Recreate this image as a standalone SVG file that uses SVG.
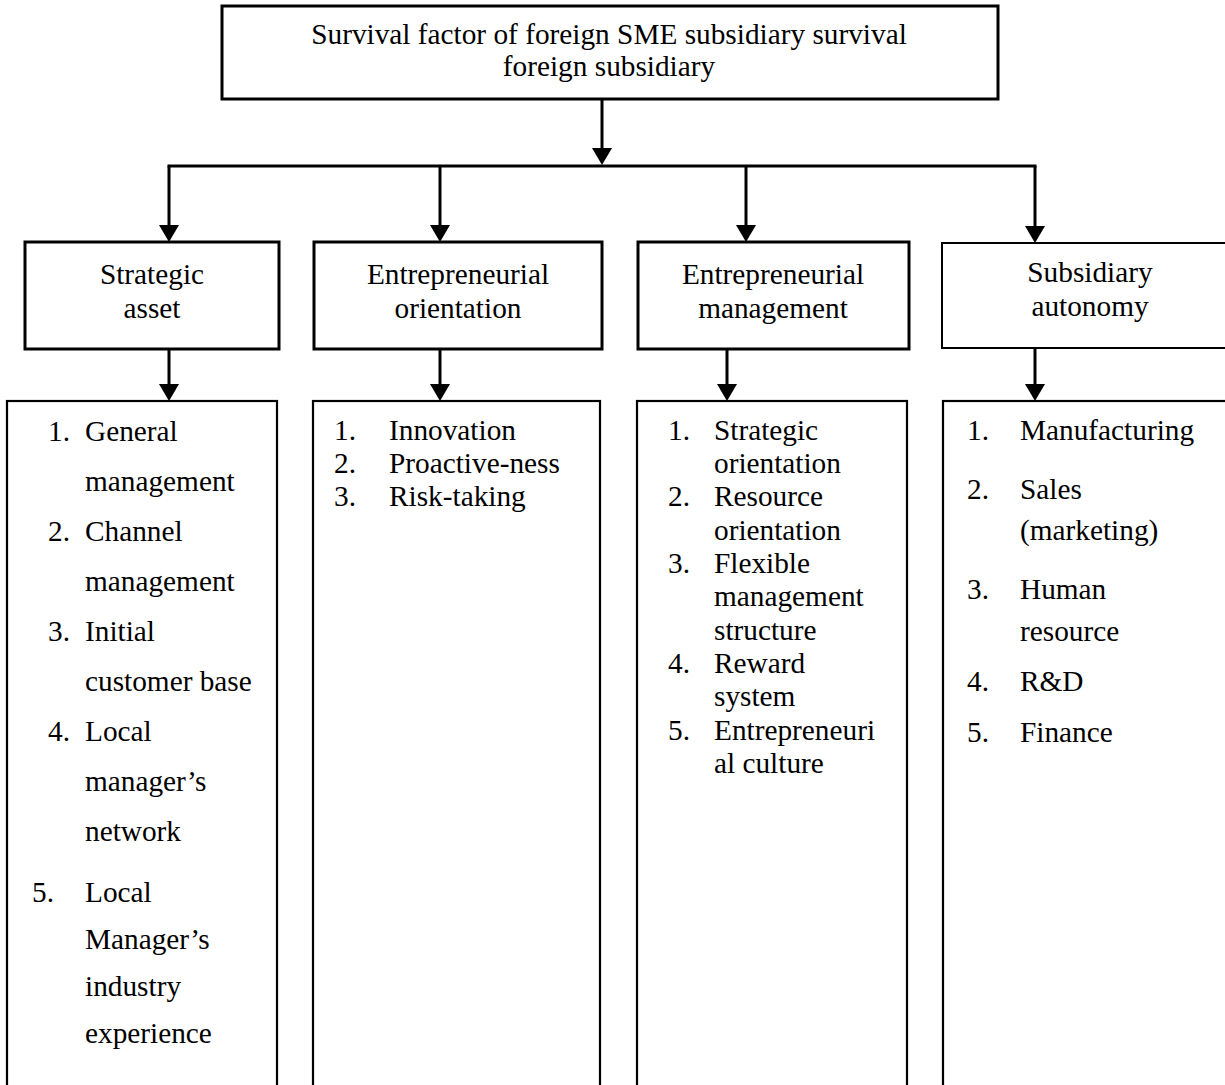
<svg xmlns="http://www.w3.org/2000/svg" width="1225" height="1085" viewBox="0 0 1225 1085">
<defs>
<style>
text{font-family:"Liberation Serif","Times New Roman",serif;font-size:29.3px;fill:#000}
.box{fill:#fff;stroke:#000;stroke-width:3}
.thin{fill:#fff;stroke:#000;stroke-width:2}
.list{fill:#fff;stroke:#000;stroke-width:2.2}
.c{text-anchor:middle}
.conn{stroke:#000;stroke-width:3;fill:none}
</style>
<marker id="ah" markerUnits="userSpaceOnUse" markerWidth="17" markerHeight="20" viewBox="0 0 17 20" refX="0" refY="10" orient="auto">
<path d="M0,0 L17,10 L0,20 Z" fill="#000"/>
</marker>
</defs>
<rect width="1225" height="1085" fill="#fff"/>

<g id="top">
<rect class="box" x="222" y="6" width="776" height="93" stroke-width="2.5"/>
<text class="c" x="609" y="44">Survival factor of foreign SME subsidiary survival</text>
<text class="c" x="609" y="76">foreign subsidiary</text>
</g>

<g id="connectors">
<line class="conn" x1="602" y1="99" x2="602" y2="148" marker-end="url(#ah)"/>
<line class="conn" x1="169" y1="166" x2="1035" y2="166" stroke-linecap="square"/>
<line class="conn" x1="169" y1="166" x2="169" y2="225" marker-end="url(#ah)"/>
<line class="conn" x1="440" y1="166" x2="440" y2="225" marker-end="url(#ah)"/>
<line class="conn" x1="746" y1="166" x2="746" y2="225" marker-end="url(#ah)"/>
<line class="conn" x1="1035" y1="166" x2="1035" y2="226" marker-end="url(#ah)"/>
<line class="conn" x1="169" y1="349" x2="169" y2="384" marker-end="url(#ah)"/>
<line class="conn" x1="440" y1="349" x2="440" y2="384" marker-end="url(#ah)"/>
<line class="conn" x1="727" y1="349" x2="727" y2="384" marker-end="url(#ah)"/>
<line class="conn" x1="1035" y1="348" x2="1035" y2="384" marker-end="url(#ah)"/>
</g>

<g id="h1">
<rect class="box" x="25" y="242" width="254" height="107"/>
<text class="c" x="152" y="284">Strategic</text>
<text class="c" x="152" y="318">asset</text>
</g>
<g id="h2">
<rect class="box" x="314" y="242" width="288" height="107"/>
<text class="c" x="458" y="284">Entrepreneurial</text>
<text class="c" x="458" y="318">orientation</text>
</g>
<g id="h3">
<rect class="box" x="638" y="242" width="271" height="107"/>
<text class="c" x="773" y="284">Entrepreneurial</text>
<text class="c" x="773" y="318">management</text>
</g>
<g id="h4">
<rect class="thin" x="942" y="243" width="300" height="105"/>
<text class="c" x="1090" y="282">Subsidiary</text>
<text class="c" x="1090" y="316">autonomy</text>
</g>

<g id="l1">
<rect class="list" x="7" y="401" width="270" height="720"/>
<text x="48" y="441">1.</text><text x="85" y="441">General</text>
<text x="85" y="491">management</text>
<text x="48" y="541">2.</text><text x="85" y="541">Channel</text>
<text x="85" y="591">management</text>
<text x="48" y="641">3.</text><text x="85" y="641">Initial</text>
<text x="85" y="691">customer base</text>
<text x="48" y="741">4.</text><text x="85" y="741">Local</text>
<text x="85" y="791">manager’s</text>
<text x="85" y="841">network</text>
<text x="32" y="902">5.</text><text x="85" y="902">Local</text>
<text x="85" y="949">Manager’s</text>
<text x="85" y="996">industry</text>
<text x="85" y="1043">experience</text>
</g>
<g id="l2">
<rect class="list" x="313" y="401" width="287" height="720"/>
<text x="334" y="440">1.</text><text x="389" y="440">Innovation</text>
<text x="334" y="473">2.</text><text x="389" y="473">Proactive-ness</text>
<text x="334" y="506">3.</text><text x="389" y="506">Risk-taking</text>
</g>
<g id="l3">
<rect class="list" x="637" y="401" width="270" height="720"/>
<text x="668" y="440">1.</text><text x="714" y="440">Strategic</text>
<text x="714" y="473">orientation</text>
<text x="668" y="506">2.</text><text x="714" y="506">Resource</text>
<text x="714" y="540">orientation</text>
<text x="668" y="573">3.</text><text x="714" y="573">Flexible</text>
<text x="714" y="606">management</text>
<text x="714" y="640">structure</text>
<text x="668" y="673">4.</text><text x="714" y="673">Reward</text>
<text x="714" y="706">system</text>
<text x="668" y="740">5.</text><text x="714" y="740">Entrepreneuri</text>
<text x="714" y="773">al culture</text>
</g>
<g id="l4">
<rect class="list" x="943" y="401" width="300" height="720"/>
<text x="967" y="440">1.</text><text x="1020" y="440">Manufacturing</text>
<text x="967" y="499">2.</text><text x="1020" y="499">Sales</text>
<text x="1020" y="540">(marketing)</text>
<text x="967" y="599">3.</text><text x="1020" y="599">Human</text>
<text x="1020" y="641">resource</text>
<text x="967" y="691">4.</text><text x="1020" y="691">R&amp;D</text>
<text x="967" y="742">5.</text><text x="1020" y="742">Finance</text>
</g>
</svg>
